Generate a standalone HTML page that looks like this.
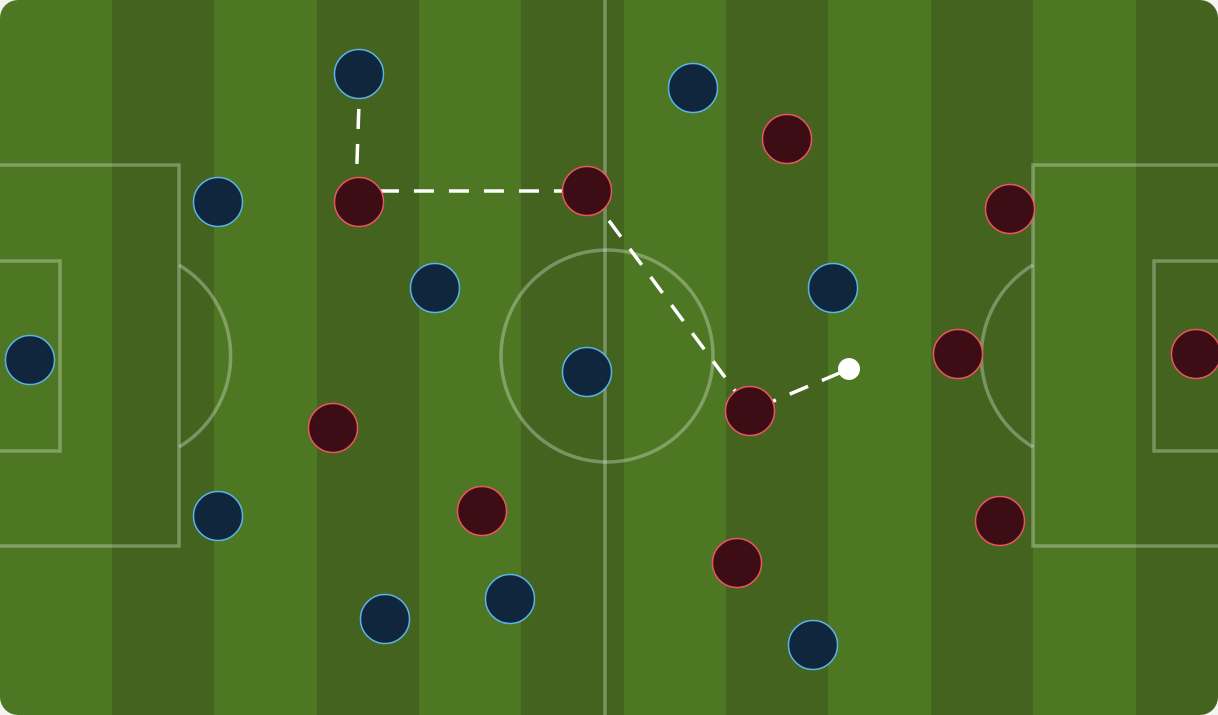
<!DOCTYPE html>
<html><head><meta charset="utf-8"><style>
html,body{margin:0;padding:0;background:#f4f4f2;width:1218px;height:715px;overflow:hidden}
svg{display:block}
</style></head><body>
<svg width="1218" height="715" viewBox="0 0 1218 715">
<defs>
<clipPath id="pc"><rect x="0" y="0" width="1218" height="715" rx="18" ry="18"/></clipPath>
</defs>
<g clip-path="url(#pc)">
<g id="stripes"></g>
<g fill="none" stroke="rgba(255,255,255,0.3)" stroke-width="3.5">
<line x1="605" y1="0" x2="605" y2="715"/>
<circle cx="607" cy="356" r="106"/>
<rect x="-5" y="165" width="184" height="381"/>
<rect x="-5" y="261" width="65" height="190"/>
<path d="M179 265 A106 106 0 0 1 179 447"/>
<rect x="1033" y="165" width="200" height="381"/>
<rect x="1154" y="261" width="80" height="190"/>
<path d="M1033 265 A106 106 0 0 0 1033 447"/>
</g>
<polyline points="360,74 356,191 587,191 750,411 849,369" fill="none" stroke="#fff" stroke-width="3.5" stroke-dasharray="20 15"/>
<g id="players"></g>
<circle cx="849" cy="369" r="11" fill="#fff"/>
</g>
</svg>
<script>
const stripeStarts=[0,112,214,317,419,521,624,726,828,931,1033,1136,1218];
const blueX=[359,218,435,30,218,385,510,587,693,833,813];
const blueY=[74,202,288,360,516,619,599,372,88,288,645];
const redX=[359,587,787,1010,958,1196,333,482,750,737,1000];
const redY=[202,191,139,209,354,354,428,511,411,563,521];
const NS='http://www.w3.org/2000/svg';
const sg=document.getElementById('stripes');
for(let i=0;i<stripeStarts.length-1;i++){
  const r=document.createElementNS(NS,'rect');
  r.setAttribute('x',stripeStarts[i]);r.setAttribute('y',0);
  r.setAttribute('width',stripeStarts[i+1]-stripeStarts[i]);r.setAttribute('height',715);
  r.setAttribute('fill',i%2===0?'#4d7722':'#43631f');
  
  
  sg.appendChild(r);
}
const pg=document.getElementById('players');
function addP(x,y,fill,stroke,name){
  const c=document.createElementNS(NS,'circle');
  c.setAttribute('cx',x);c.setAttribute('cy',y);c.setAttribute('r',24.5);
  c.setAttribute('fill',fill);c.setAttribute('stroke',stroke);c.setAttribute('stroke-width',1.5);
  
  
  pg.appendChild(c);
}
blueX.forEach((x,i)=>addP(x,blueY[i],'#0f263d','#5ab4ea','blue-player'));
redX.forEach((x,i)=>addP(x,redY[i],'#3c0d15','#ec5560','red-player'));
</script>
</body></html>
